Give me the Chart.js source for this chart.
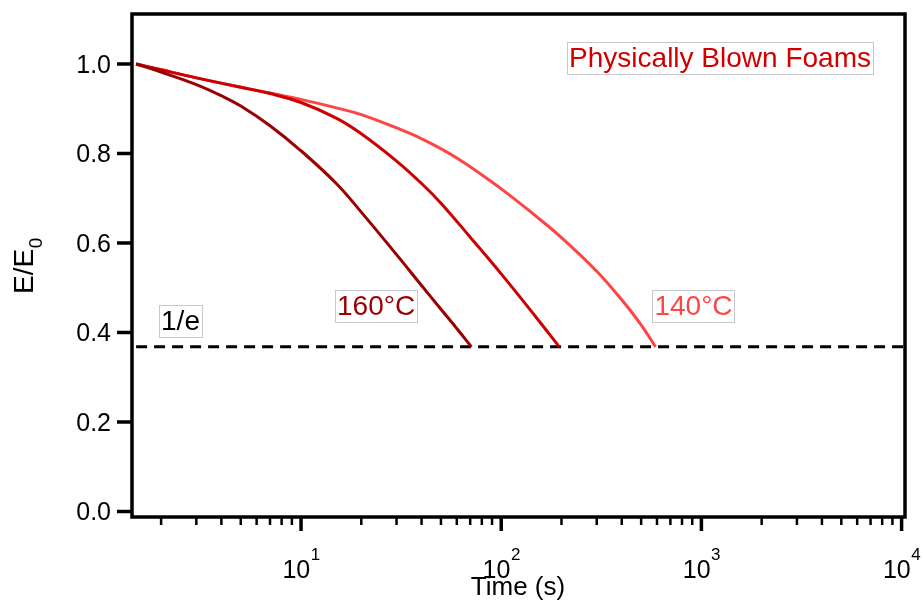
<!DOCTYPE html>
<html>
<head>
<meta charset="utf-8">
<script src="https://cdn.jsdelivr.net/npm/chart.js@4.4.1/dist/chart.umd.min.js"></script>
<style>
  html, body { margin: 0; padding: 0; background: #ffffff; }
  #wrap { width: 923px; height: 603px; }
</style>
</head>
<body>
<div id="wrap"><canvas id="c" width="923" height="603"></canvas></div>
<script>
// ---- data ----
const time160 = [1.5, 2, 3, 4, 5, 7, 10, 15, 20, 30, 40, 50, 60, 71];
const e160    = [1.000, 0.982, 0.954, 0.929, 0.906, 0.862, 0.806, 0.733, 0.669, 0.574, 0.505, 0.452, 0.409, 0.368];

const time150 = [1.5, 2, 3, 5, 7, 10, 15, 20, 30, 40, 50, 70, 100, 150, 195];
const e150    = [1.000, 0.987, 0.969, 0.948, 0.934, 0.914, 0.879, 0.844, 0.783, 0.733, 0.689, 0.613, 0.531, 0.433, 0.368];

const time140 = [1.5, 2, 3, 5, 7, 10, 15, 20, 30, 40, 60, 100, 150, 200, 300, 400, 500, 590];
const e140    = [1.000, 0.987, 0.969, 0.948, 0.935, 0.921, 0.902, 0.887, 0.857, 0.833, 0.790, 0.721, 0.659, 0.612, 0.537, 0.473, 0.417, 0.368];

const timeRef = [1.5, 10400];
const eRef    = [0.368, 0.368];

const yTicks = [0.0, 0.2, 0.4, 0.6, 0.8, 1.0];
const yTickLabels = ["0.0", "0.2", "0.4", "0.6", "0.8", "1.0"];
const xMajor = [10, 100, 1000, 10000];
const xMajorExp = ["1", "2", "3", "4"];
const xMinorMult = [2, 3, 4, 5, 6, 7, 8, 9];
const xDecades = [1, 10, 100, 1000];

const xMin = 1.431, xMax = 10400;
const yMin = -0.0123, yMax = 1.1117;

const labels = [
  { text: "Physically Blown Foams", x: 1239, y: 0.993, color: "#d00000" },
  { text: "1/e",   x: 2.5,  y: 0.4056, color: "#000000" },
  { text: "160°C", x: 23.7, y: 0.440, color: "#9b0000" },
  { text: "140°C", x: 913,  y: 0.439, color: "#ff4646" }
];

function pts(xs, ys) { return xs.map((v, i) => ({ x: v, y: ys[i] })); }

const FONT = '"Liberation Sans", Arial, sans-serif';

const framePlugin = {
  id: 'frame',
  afterDraw(chart) {
    const ctx = chart.ctx;
    const xs = chart.scales.x, ys = chart.scales.y;
    const a = chart.chartArea;
    ctx.save();
    ctx.strokeStyle = '#000';
    ctx.fillStyle = '#000';
    ctx.lineWidth = 3.5;
    ctx.strokeRect(a.left, a.top, a.right - a.left, a.bottom - a.top);

    ctx.lineWidth = 3.5;
    ctx.font = '25px ' + FONT;
    ctx.textAlign = 'right';
    ctx.textBaseline = 'alphabetic';
    yTicks.forEach((v, i) => {
      const py = ys.getPixelForValue(v);
      ctx.beginPath();
      ctx.moveTo(a.left - 15, py);
      ctx.lineTo(a.left, py);
      ctx.stroke();
      ctx.fillText(yTickLabels[i], 111, py + 9);
    });

    ctx.lineWidth = 2.5;
    xDecades.forEach(d => {
      xMinorMult.forEach(m => {
        const v = d * m;
        if (v < xMin || v > xMax) return;
        const px = xs.getPixelForValue(v);
        ctx.beginPath();
        ctx.moveTo(px, a.bottom);
        ctx.lineTo(px, a.bottom + 8);
        ctx.stroke();
      });
    });
    ctx.lineWidth = 3.5;
    xMajor.forEach((v, i) => {
      const px = xs.getPixelForValue(v);
      ctx.beginPath();
      ctx.moveTo(px, a.bottom);
      ctx.lineTo(px, a.bottom + 14);
      ctx.stroke();
      ctx.font = '25px ' + FONT;
      const w1 = ctx.measureText('10').width;
      ctx.font = '17px ' + FONT;
      const w2 = ctx.measureText(xMajorExp[i]).width;
      const start = px - (w1 + w2) / 2;
      ctx.textAlign = 'left';
      ctx.font = '25px ' + FONT;
      ctx.fillText('10', start, 578);
      ctx.font = '17px ' + FONT;
      ctx.fillText(xMajorExp[i], start + w1 + 0.5, 560);
    });

    ctx.font = '26px ' + FONT;
    ctx.textAlign = 'center';
    ctx.fillText('Time (s)', 518, 595);

    ctx.save();
    ctx.translate(33, 294);
    ctx.rotate(-Math.PI / 2);
    ctx.textAlign = 'left';
    ctx.font = '28px ' + FONT;
    ctx.fillText('E/E', 0, 0);
    const wE = ctx.measureText('E/E').width;
    ctx.font = '19px ' + FONT;
    ctx.fillText('0', wE + 0.5, 9);
    ctx.restore();

    labels.forEach(l => {
      const px = xs.getPixelForValue(l.x);
      const py = ys.getPixelForValue(l.y);
      ctx.font = '28px ' + FONT;
      const w = ctx.measureText(l.text).width;
      ctx.fillStyle = '#ffffff';
      ctx.fillRect(px - w / 2 - 2, py - 25, w + 4, 32);
      ctx.strokeStyle = '#c8c8c8';
      ctx.lineWidth = 1;
      ctx.strokeRect(Math.round(px - w / 2 - 2) + 0.5, Math.round(py - 25) + 0.5, Math.round(w + 4), 32);
      ctx.fillStyle = l.color;
      ctx.textAlign = 'center';
      ctx.fillText(l.text, px, py);
    });
    ctx.restore();
  }
};

const lineOpts = { borderWidth: 3, pointRadius: 0, tension: 0.4, fill: false };

new Chart(document.getElementById('c'), {
  type: 'line',
  data: {
    datasets: [
      Object.assign({ label: '160°C', data: pts(time160, e160), borderColor: '#9a0000' }, lineOpts),
      Object.assign({ label: '150°C', data: pts(time150, e150), borderColor: '#cc0000' }, lineOpts),
      Object.assign({ label: '140°C', data: pts(time140, e140), borderColor: '#ff4444' }, lineOpts),
      { label: '1/e', data: pts(timeRef, eRef), borderColor: '#000000', borderWidth: 3, borderDash: [11, 7], pointRadius: 0, fill: false, tension: 0 }
    ]
  },
  options: {
    responsive: false,
    animation: false,
    devicePixelRatio: 1,
    layout: { padding: { left: 132, right: 18, top: 14, bottom: 86 } },
    plugins: { legend: { display: false }, tooltip: { enabled: false } },
    scales: {
      x: { type: 'logarithmic', min: xMin, max: xMax, display: false },
      y: { type: 'linear', min: yMin, max: yMax, display: false }
    }
  },
  plugins: [framePlugin]
});
</script>
</body>
</html>
